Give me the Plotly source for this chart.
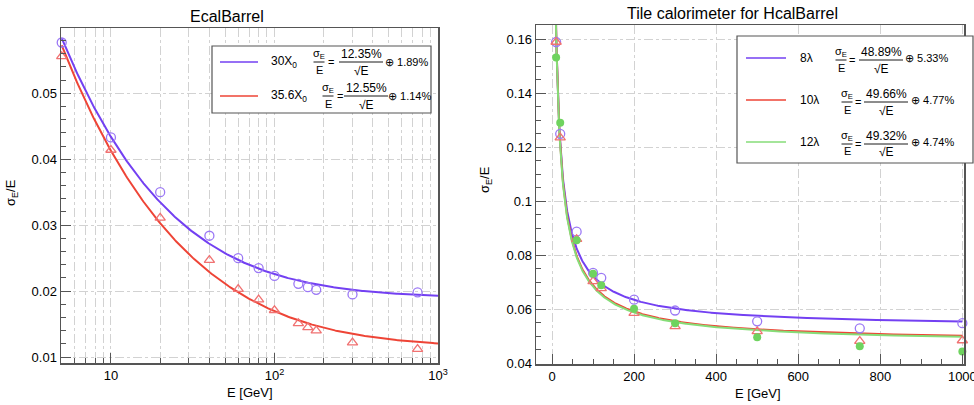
import numpy as np
import plotly.graph_objects as go

# ---------------- data ----------------
ecal_E = [5, 10, 20, 40, 60, 80, 100, 140, 160, 180, 300, 750]
ecal_30X0 = [0.0577, 0.0433, 0.0350, 0.0284, 0.0250, 0.0235, 0.0223, 0.0211, 0.0206, 0.0202, 0.0195, 0.0198]
ecal_356X0 = [0.0556, 0.0414, 0.0311, 0.0247, 0.0203, 0.0187, 0.0171, 0.0151, 0.0145, 0.0140, 0.0122, 0.0112]
ecal_labels = ["30X<sub>0</sub>", "35.6X<sub>0</sub>"]
ecal_stoch = [12.35, 12.55]   # % / sqrt(E)
ecal_const = [1.89, 1.14]     # %

hcal_E = [10, 20, 60, 100, 120, 200, 300, 500, 750, 1000]
hcal_8l = [0.159, 0.125, 0.0888, 0.0735, 0.0717, 0.0636, 0.0596, 0.0556, 0.0530, 0.0549]
hcal_10l = [0.159, 0.1236, 0.0860, 0.0704, 0.0678, 0.0586, 0.0537, 0.0519, 0.0483, 0.0485]
hcal_12l = [0.1533, 0.1291, 0.0856, 0.0732, 0.0690, 0.0603, 0.0549, 0.0497, 0.0464, 0.0444]
hcal_labels = ["8λ", "10λ", "12λ"]
hcal_stoch = [48.89, 49.66, 49.32]
hcal_const = [5.33, 4.77, 4.74]

ecal_xtickvals = [10, 100, 1000]
ecal_xticktext = ["10", "10<sup>2</sup>", "10<sup>3</sup>"]

# ---------------- style ----------------
W, H = 974, 405
FONT = "Liberation Sans, Arial, Helvetica, sans-serif"
LINE_COL = ["#7340f2", "#ee4436", "#86dd78"]
MK_COL = ["#9b78f5", "#f07272", "#6fd35f"]
FRAME = "#555555"
GRID = "#d2d2d2"
TXT = "#000000"


def px(x):
    return x / W


def py(y):
    return 1 - y / H


def fit_curve(E, a, b):
    E = np.asarray(E, dtype=float)
    return np.sqrt((a / 100.0) ** 2 / E + (b / 100.0) ** 2)


fig = go.Figure()

# ---------------- left panel: EcalBarrel ----------------
E_fit_l = np.logspace(np.log10(5), 3, 300)
for i in range(2):
    fig.add_trace(go.Scatter(x=E_fit_l, y=fit_curve(E_fit_l, ecal_stoch[i], ecal_const[i]),
                             mode="lines", line=dict(color=LINE_COL[i], width=2),
                             xaxis="x", yaxis="y", showlegend=False, hoverinfo="skip"))
fig.add_trace(go.Scatter(x=ecal_E, y=ecal_30X0, mode="markers",
                         marker=dict(symbol="circle-open", size=9, color=MK_COL[0], line=dict(width=1.3)),
                         xaxis="x", yaxis="y", showlegend=False, cliponaxis=False))
fig.add_trace(go.Scatter(x=ecal_E, y=ecal_356X0, mode="markers",
                         marker=dict(symbol="triangle-up-open", size=9, color=MK_COL[1], line=dict(width=1.3)),
                         xaxis="x", yaxis="y", showlegend=False, cliponaxis=False))

# ---------------- right panel: HcalBarrel ----------------
E_fit_r = np.linspace(5, 1000, 800)
for i in range(3):
    fig.add_trace(go.Scatter(x=E_fit_r, y=fit_curve(E_fit_r, hcal_stoch[i], hcal_const[i]),
                             mode="lines", line=dict(color=LINE_COL[i], width=2),
                             xaxis="x2", yaxis="y2", showlegend=False, hoverinfo="skip"))
fig.add_trace(go.Scatter(x=hcal_E, y=hcal_8l, mode="markers",
                         marker=dict(symbol="circle-open", size=9, color=MK_COL[0], line=dict(width=1.3)),
                         xaxis="x2", yaxis="y2", showlegend=False, cliponaxis=False))
fig.add_trace(go.Scatter(x=hcal_E, y=hcal_10l, mode="markers",
                         marker=dict(symbol="triangle-up-open", size=9, color=MK_COL[1], line=dict(width=1.3)),
                         xaxis="x2", yaxis="y2", showlegend=False, cliponaxis=False))
fig.add_trace(go.Scatter(x=hcal_E, y=hcal_12l, mode="markers",
                         marker=dict(symbol="circle", size=8, color=MK_COL[2]),
                         xaxis="x2", yaxis="y2", showlegend=False, cliponaxis=False))

tickfont = dict(family=FONT, size=13, color=TXT)
common = dict(showline=True, linecolor=FRAME, linewidth=1.5, mirror=True, ticks="inside",
              tickcolor=FRAME, tickwidth=1, ticklen=10, tickfont=tickfont, automargin=False,
              zeroline=False, griddash="dashdot", gridcolor=GRID, gridwidth=1,
              ticklabeloverflow="allow")

minor_ecal_x = [v * m for m in (1, 10, 100) for v in range(2, 10) if v * m >= 5]

fig.update_layout(
    width=W, height=H, margin=dict(l=0, r=0, t=0, b=0),
    paper_bgcolor="white", plot_bgcolor="white", hovermode=False,
    xaxis=dict(domain=[px(61), px(438)], type="log", range=[np.log10(4.95), 3.0],
               tickmode="array", tickvals=ecal_xtickvals, ticktext=ecal_xticktext,
               showgrid=True,
               minor=dict(tickmode="array", tickvals=minor_ecal_x, ticks="inside", ticklen=5,
                          tickcolor=FRAME, showgrid=True, gridcolor=GRID, griddash="dashdot"),
               anchor="y", **common),
    yaxis=dict(domain=[py(363), py(28)], range=[0.0091, 0.0599], tick0=0, dtick=0.01,
               tickformat=".2~f", showgrid=True,
               minor=dict(dtick=0.002, ticks="inside", ticklen=5, tickcolor=FRAME, showgrid=False),
               anchor="x", **common),
    xaxis2=dict(domain=[px(536), px(964)], range=[-39, 1004], tick0=0, dtick=200, showgrid=True,
                minor=dict(dtick=50, ticks="inside", ticklen=5, tickcolor=FRAME, showgrid=False),
                anchor="y2", **common),
    yaxis2=dict(domain=[py(364), py(25)], range=[0.0398, 0.1653], tick0=0, dtick=0.02,
                tickformat=".2~f", showgrid=True,
                minor=dict(dtick=0.005, ticks="inside", ticklen=5, tickcolor=FRAME, showgrid=False),
                anchor="x2", **common),
)

ann = []
shapes = []


def text(x, y, s, size=11, xanchor="center", yanchor="middle", angle=0):
    ann.append(dict(x=px(x), y=py(y), xref="paper", yref="paper", text=s, showarrow=False,
                    xanchor=xanchor, yanchor=yanchor, textangle=angle,
                    font=dict(family=FONT, size=size, color=TXT)))


def hline(x0, x1, y, color=TXT, width=1):
    shapes.append(dict(type="line", xref="paper", yref="paper", x0=px(x0), x1=px(x1),
                       y0=py(y), y1=py(y), line=dict(color=color, width=width)))


def fraction(xc, ybar, num, den, w, size=10):
    ann.append(dict(x=px(xc), y=py(ybar - 0.5), xref="paper", yref="paper", text=num,
                    showarrow=False, xanchor="center", yanchor="bottom", borderpad=0,
                    font=dict(family=FONT, size=size, color=TXT)))
    ann.append(dict(x=px(xc), y=py(ybar + 0.5), xref="paper", yref="paper", text=den,
                    showarrow=False, xanchor="center", yanchor="top", borderpad=0,
                    font=dict(family=FONT, size=size, color=TXT)))
    hline(xc - w / 2, xc + w / 2, ybar, width=0.9)


# titles
text(227, 16, "EcalBarrel", size=16)
text(732, 14, "Tile calorimeter for HcalBarrel", size=16)
text(250, 392, "E [GeV]", size=13)
text(758, 393, "E [GeV]", size=13)
text(11, 193, "σ<sub>E</sub>/E", size=13, angle=-90)
text(485, 180, "σ<sub>E</sub>/E", size=13, angle=-90)

# left legend
shapes.append(dict(type="rect", xref="paper", yref="paper", x0=px(212), x1=px(431), y0=py(46), y1=py(113),
                   line=dict(color=FRAME, width=1.2), fillcolor="white", layer="above"))
rows_l = [62, 96]
sig_xc = [319, 328]
eq_x = [331, 340]
num_xc = [361, 366]
oplus_x = [383, 386]
for i in range(2):
    y = rows_l[i]
    hline(220, 258, y, color=LINE_COL[i], width=1.5)
    text(269, y, ecal_labels[i], size=12, xanchor="left")
    fraction(sig_xc[i], y, "σ<sub>E</sub>", "E", 11, size=11)
    text(eq_x[i], y, "=", size=11)
    fraction(num_xc[i], y, f"{ecal_stoch[i]:.2f}%", "√E", 44, size=12)
    text(oplus_x[i], y, f"⊕ {ecal_const[i]:.2f}%", size=11, xanchor="left")

# right legend
shapes.append(dict(type="rect", xref="paper", yref="paper", x0=px(737), x1=px(973), y0=py(36), y1=py(163),
                   line=dict(color=FRAME, width=1.2), fillcolor="white", layer="above"))
rows_r = [58, 100, 142]
sig_xc_r = [841, 847, 847]
eq_x_r = [852, 858, 858]
num_xc_r = [881, 886, 886]
oplus_x_r = [903, 909, 909]
for i in range(3):
    y = rows_r[i]
    hline(746, 786, y, color=LINE_COL[i], width=1.5)
    text(798, y, hcal_labels[i], size=12, xanchor="left")
    fraction(sig_xc_r[i], y + 2, "σ<sub>E</sub>", "E", 11, size=11)
    text(eq_x_r[i], y + 2, "=", size=11)
    fraction(num_xc_r[i], y + 2, f"{hcal_stoch[i]:.2f}%", "√E", 44, size=12)
    text(oplus_x_r[i], y, f"⊕ {hcal_const[i]:.2f}%", size=11, xanchor="left")

fig.update_layout(annotations=ann, shapes=shapes)
fig.write_html("out.html", config={"displayModeBar": False, "staticPlot": True},
               post_script="document.body.style.margin='0';document.body.style.overflow='hidden';")
